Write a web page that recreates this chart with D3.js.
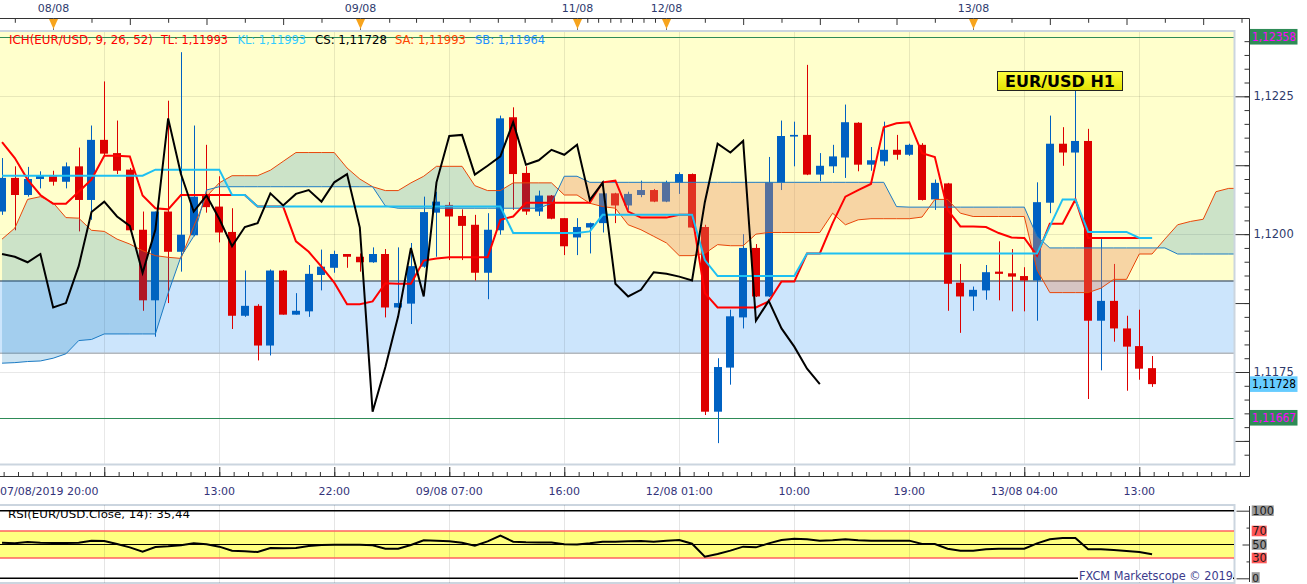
<!DOCTYPE html>
<html><head><meta charset="utf-8">
<script src="https://cdn.jsdelivr.net/npm/d3@7"></script>
<style>
html,body{margin:0;padding:0;background:#fff;overflow:hidden;}
svg{display:block;font-family:"DejaVu Sans",Verdana,sans-serif;}
</style></head><body>
<svg id="c" width="1307" height="584"></svg>
<script>
// ---------------- DATA ----------------
const openP = [
1.12041,1.12102,1.12071,1.12100,1.12105,1.12095,1.12123,1.12062,1.12171,1.12147,
1.12117,1.12008,1.11880,1.12041,1.11968,1.11998,1.12071,1.12050,1.12004,1.11852,
1.11870,1.11798,1.11934,1.11854,1.11860,1.11926,1.11939,1.11964,1.11959,1.11949,
1.11964,1.11867,1.11874,1.11941,1.12039,1.12053,1.12033,1.12017,1.11930,1.12007,
1.12212,1.12111,1.12041,1.12070,1.12029,1.11994,1.12012,1.12020,1.12074,1.12052,
1.12071,1.12080,1.12059,1.12093,1.12109,1.12013,1.11678,1.11758,1.11849,1.11975,
1.11887,1.12093,1.12177,1.12180,1.12108,1.12123,1.12139,1.12202,1.12126,1.12132,
1.12153,1.12144,1.12162,1.12063,1.12092,1.11912,1.11887,1.11898,1.11932,1.11929,
1.11924,1.11916,1.12057,1.12164,1.12148,1.12169,1.11843,1.11879,1.11829,1.11797,
1.11757];
const highP = [
1.12138,1.12123,1.12122,1.12114,1.12115,1.12130,1.12157,1.12197,1.12277,1.12206,
1.12120,1.12041,1.12041,1.12242,1.12330,1.12197,1.12162,1.12105,1.12047,1.11934,
1.11873,1.11936,1.11935,1.11893,1.11944,1.11972,1.11970,1.11964,1.11965,1.11976,
1.11973,1.11976,1.11984,1.12068,1.12077,1.12058,1.12045,1.12035,1.12038,1.12215,
1.12230,1.12123,1.12079,1.12071,1.12029,1.12029,1.12021,1.12097,1.12075,1.12077,
1.12097,1.12082,1.12097,1.12112,1.12110,1.12017,1.11775,1.11863,1.12000,1.11982,
1.12140,1.12206,1.12204,1.12307,1.12147,1.12162,1.12235,1.12203,1.12158,1.12204,
1.12180,1.12164,1.12165,1.12099,1.12093,1.11946,1.11905,1.11944,1.11987,1.11973,
1.11940,1.12094,1.12215,1.12194,1.12261,1.12191,1.11991,1.11946,1.11852,1.11863,
1.11779];
const lowP = [
1.12035,1.12007,1.12068,1.12083,1.12088,1.12083,1.12005,1.12026,1.12141,1.12109,
1.12005,1.11861,1.11814,1.11875,1.11932,1.11996,1.12039,1.11985,1.11828,1.11850,
1.11771,1.11780,1.11854,1.11854,1.11850,1.11898,1.11930,1.11939,1.11932,1.11948,
1.11849,1.11866,1.11837,1.11939,1.11959,1.11953,1.11953,1.11916,1.11882,1.11999,
1.12044,1.12035,1.12033,1.12027,1.11962,1.11962,1.11965,1.12003,1.12020,1.12044,
1.12067,1.12058,1.12058,1.12073,1.12011,1.11672,1.11621,1.11727,1.11829,1.11886,
1.11886,1.12080,1.12123,1.12107,1.12096,1.12111,1.12102,1.12114,1.12115,1.12124,
1.12135,1.12142,1.12061,1.12044,1.11861,1.11821,1.11861,1.11881,1.11880,1.11860,
1.11860,1.11843,1.12038,1.12124,1.12062,1.11701,1.11753,1.11805,1.11716,1.11736,
1.11723];
const closeP = [
1.12102,1.12071,1.12100,1.12106,1.12095,1.12123,1.12062,1.12171,1.12146,1.12115,
1.12007,1.11880,1.12041,1.11968,1.11999,1.12068,1.12049,1.12003,1.11852,1.11870,
1.11798,1.11934,1.11854,1.11861,1.11928,1.11941,1.11964,1.11959,1.11949,1.11964,
1.11867,1.11875,1.11942,1.12040,1.12059,1.12032,1.12015,1.11930,1.12008,1.12210,
1.12109,1.12041,1.12070,1.12028,1.11978,1.12013,1.12020,1.12074,1.12052,1.12073,
1.12080,1.12059,1.12094,1.12109,1.12012,1.11678,1.11759,1.11851,1.11975,1.11887,
1.12094,1.12178,1.12180,1.12108,1.12124,1.12141,1.12203,1.12126,1.12134,1.12153,
1.12144,1.12162,1.12062,1.12093,1.11910,1.11887,1.11899,1.11931,1.11928,1.11923,
1.11916,1.12058,1.12164,1.12148,1.12169,1.11843,1.11879,1.11829,1.11796,1.11756,
1.11728];
const tenkan = [
1.12167,1.12138,1.12099,1.12071,1.12055,1.12055,1.12077,1.12099,1.12142,1.12142,
1.12141,1.12070,1.12047,1.12045,1.12071,1.12071,1.12071,1.12071,1.12071,1.12071,
1.12050,1.12050,1.12050,1.11987,1.11968,1.11941,1.11912,1.11873,1.11873,1.11878,
1.11911,1.11910,1.11910,1.11952,1.11956,1.11958,1.11958,1.11958,1.11958,1.12026,
1.12032,1.12057,1.12057,1.12057,1.12057,1.12057,1.12057,1.12094,1.12097,1.12041,
1.12030,1.12030,1.12030,1.12035,1.12035,1.11893,1.11867,1.11867,1.11867,1.11867,
1.11878,1.11914,1.11914,1.11965,1.11965,1.12020,1.12068,1.12080,1.12091,1.12194,
1.12201,1.12203,1.12147,1.12140,1.12044,1.12014,1.12014,1.12013,1.12002,1.11994,
1.11993,1.11961,1.12019,1.12019,1.12063,1.11993,1.11993,1.11993,1.11993,1.11993,
1.11993];
const kijun = [
1.12106,1.12106,1.12106,1.12106,1.12106,1.12106,1.12106,1.12106,1.12106,1.12106,
1.12106,1.12106,1.12117,1.12117,1.12117,1.12117,1.12117,1.12117,1.12071,1.12071,
1.12050,1.12050,1.12050,1.12050,1.12050,1.12050,1.12050,1.12050,1.12050,1.12050,
1.12050,1.12050,1.12050,1.12050,1.12050,1.12050,1.12050,1.12050,1.12050,1.12050,
1.12002,1.12002,1.12002,1.12002,1.12002,1.12002,1.12005,1.12035,1.12035,1.12035,
1.12035,1.12035,1.12035,1.12035,1.12035,1.11953,1.11924,1.11924,1.11924,1.11924,
1.11924,1.11924,1.11924,1.11965,1.11965,1.11965,1.11965,1.11965,1.11965,1.11965,
1.11965,1.11965,1.11965,1.11965,1.11965,1.11965,1.11965,1.11965,1.11965,1.11965,
1.11965,1.11965,1.12014,1.12063,1.12063,1.12004,1.12004,1.12004,1.12004,1.11993,
1.11993];
const chikou = [
1.11964,1.11959,1.11949,1.11964,1.11867,1.11875,1.11942,1.12040,1.12059,1.12032,
1.12015,1.11930,1.12008,1.12210,1.12109,1.12041,1.12070,1.12028,1.11978,1.12013,
1.12020,1.12074,1.12052,1.12073,1.12080,1.12059,1.12094,1.12109,1.12012,1.11678,
1.11759,1.11851,1.11975,1.11887,1.12094,1.12178,1.12180,1.12108,1.12124,1.12141,
1.12203,1.12126,1.12134,1.12153,1.12144,1.12162,1.12062,1.12093,1.11910,1.11887,
1.11899,1.11931,1.11928,1.11923,1.11916,1.12058,1.12164,1.12148,1.12169,1.11843,
1.11879,1.11829,1.11796,1.11756,1.11728];
const senkouA = [
1.11991,1.12011,1.12063,1.12068,1.12057,1.12030,1.12029,1.12007,1.12005,1.11991,
1.11982,1.11970,1.11961,1.11958,1.11956,1.12014,1.12068,1.12093,1.12106,1.12106,
1.12106,1.12116,1.12132,1.12148,1.12148,1.12148,1.12148,1.12120,1.12100,1.12086,
1.12079,1.12079,1.12093,1.12105,1.12123,1.12123,1.12123,1.12088,1.12079,1.12079,
1.12093,1.12093,1.12093,1.12093,1.12071,1.12071,1.12056,1.12050,1.12047,1.12017,
1.12008,1.11996,1.11984,1.11961,1.11961,1.11965,1.11981,1.11979,1.11979,1.12000,
1.12003,1.12003,1.12003,1.12003,1.12003,1.12038,1.12017,1.12026,1.12028,1.12028,
1.12028,1.12028,1.12031,1.12063,1.12063,1.12038,1.12032,1.12032,1.12032,1.12032,
1.12032,1.11935,1.11894,1.11894,1.11894,1.11894,1.11902,1.11918,1.11918,1.11964,
1.11964,1.11991,1.12017,1.12023,1.12027,1.12077,1.12083,1.12083];
const senkouB = [
1.11766,1.11767,1.11769,1.11770,1.11775,1.11783,1.11807,1.11809,1.11819,1.11819,
1.11819,1.11819,1.11819,1.11893,1.11959,1.11996,1.12080,1.12086,1.12086,1.12086,
1.12086,1.12086,1.12086,1.12086,1.12086,1.12086,1.12086,1.12086,1.12086,1.12086,
1.12051,1.12047,1.12047,1.12047,1.12047,1.12047,1.12047,1.12047,1.12047,1.12047,
1.12047,1.12047,1.12047,1.12056,1.12105,1.12105,1.12094,1.12094,1.12094,1.12094,
1.12094,1.12094,1.12094,1.12094,1.12094,1.12094,1.12094,1.12094,1.12094,1.12094,
1.12094,1.12094,1.12094,1.12094,1.12094,1.12094,1.12094,1.12094,1.12094,1.12094,
1.12050,1.12049,1.12049,1.12049,1.12049,1.12049,1.12049,1.12049,1.12049,1.12049,
1.12049,1.11996,1.11975,1.11975,1.11975,1.11975,1.11975,1.11975,1.11975,1.11975,
1.11975,1.11975,1.11964,1.11964,1.11964,1.11964,1.11964,1.11964];
const rsi = [
52.7,51.7,53.7,52.7,52.2,52.2,52.7,55.7,55.2,50.7,
45.8,39.4,46.3,47.3,49.0,51.7,50.4,46.8,40.9,39.9,
38.9,44.8,44.3,44.8,47.8,49.3,49.8,49.8,49.8,48.8,
43.8,43.8,49.3,56.2,55.7,54.7,52.7,48.3,54.7,63.1,
54.2,53.2,52.8,52.8,50.2,50.0,51.7,54.2,54.2,54.7,
55.2,54.2,55.7,56.7,51.2,32.0,35.9,40.9,46.8,45.8,
51.7,56.7,58.6,57.7,55.7,56.2,57.7,56.2,55.7,55.7,
55.7,55.7,50.7,50.7,43.8,40.9,40.9,42.9,43.8,43.8,
43.8,51.7,57.7,59.6,59.6,42.9,42.9,41.9,40.4,38.9,
35.44];
// time axis labels (candle index -> label)
const timeLabelIdx = [0,17,26,35,44,53,62,71,80,89];
const timeLabels = ["07/08/2019 20:00","13:00","22:00","09/08 07:00","16:00","12/08 01:00","10:00","19:00","13/08 04:00","13:00"];
const gridIdx = [8,17,26,35,44,53,62,71,80,89];
// top ruler dates
const dateIdx = [4,28,45,52,76];
const dateLabels = ["08/08","09/08","11/08","12/08","13/08"];
const rulerMajor = [4,10,16,22,28,52,58,64,70,76,82,88,94];
const rulerMinor = [1,7,13,19,25,30.3,32.4,34.5,36.6,38.8,40.9,43,45.15,45.8,46.65,47.6,48.4,49.3,50.2,51.1,55,61,67,73,79,85,91,97];
const priceTicks = [1.1175,1.1200,1.1225];
const zoneUpper = 1.11915, zoneLower = 1.11784;
const levelLines = [1.12358, 1.11667];
const rsiLevels = [100,70,50,30,0];
const header = [
  {t:"ICH(EUR/USD, 9, 26, 52)", c:"#ff0000"},
  {t:"TL: 1,11993", c:"#ff0000"},
  {t:"KL: 1,11993", c:"#33ccff"},
  {t:"CS: 1,11728", c:"#000000"},
  {t:"SA: 1,11993", c:"#ff4500"},
  {t:"SB: 1,11964", c:"#1e90ff"}
];
// ---------------- LAYOUT ----------------
const PR = 1234, PT = 31.5, PB = 464, AX = 1249.5;
const svg = d3.select("#c");
const x = d3.scaleLinear().domain([0,96]).range([2.04, 2.04+96*12.778]);
const y = d3.scaleLinear().domain([1.1175,1.1225]).range([372.0,96.3]);
const yR = d3.scaleLinear().domain([0,100]).range([578.3,510.7]);
const fmt = (v,d)=>v.toFixed(d).replace(".",",");

const defs = svg.append("defs");
defs.append("clipPath").attr("id","pc").append("rect").attr("x",0).attr("y",PT).attr("width",PR).attr("height",PB-PT);
defs.append("clipPath").attr("id","rc").append("rect").attr("x",0).attr("y",505).attr("width",PR).attr("height",78);
const grad = defs.append("linearGradient").attr("id","lbl").attr("x1",0).attr("y1",0).attr("x2",0).attr("y2",1);
grad.append("stop").attr("offset","0").attr("stop-color","#ffff40");
grad.append("stop").attr("offset","1").attr("stop-color","#e2e200");

svg.append("rect").attr("width",1307).attr("height",584).attr("fill","#fff");

// ---- top ruler ----
const rul = svg.append("g");
rul.append("line").attr("x1",0).attr("x2",AX).attr("y1",18.5).attr("y2",18.5).attr("stroke","#333");
rul.append("g").attr("transform","translate(0,18.5)").attr("color","#333")
  .call(d3.axisBottom(x).tickValues(rulerMajor).tickSize(6.5).tickFormat(""))
  .call(g=>g.select(".domain").remove());
rul.append("g").attr("transform","translate(0,18.5)").attr("color","#333")
  .call(d3.axisBottom(x).tickValues(rulerMinor).tickSize(4.3).tickFormat(""))
  .call(g=>g.select(".domain").remove());
dateIdx.forEach((d,k)=>{
  const xx = Math.round(x(d))+0.5;
  rul.append("line").attr("x1",xx).attr("x2",xx).attr("y1",18.5).attr("y2",31).attr("stroke","#777");
  rul.append("path").attr("d",`M${xx-4.5},19 L${xx+4.5},19 L${xx},29 Z`).attr("fill","#f7a41d");
  rul.append("text").attr("x",xx).attr("y",8).attr("text-anchor","middle").attr("dominant-baseline","central")
    .attr("font-size",11).attr("fill","#2e3a6e").text(dateLabels[k]);
});

// ---- main plot background ----
const plot = svg.append("g").attr("clip-path","url(#pc)");
plot.append("rect").attr("x",0).attr("y",PT).attr("width",PR).attr("height",PB-PT).attr("fill","#fff");
plot.append("rect").attr("x",0).attr("y",PT).attr("width",PR).attr("height",y(zoneUpper)-PT).attr("fill","#ffffcc");
plot.append("rect").attr("x",0).attr("y",y(zoneUpper)).attr("width",PR).attr("height",y(zoneLower)-y(zoneUpper)).attr("fill","#cce5fc");
gridIdx.forEach(d=>{
  const xx = Math.round(x(d))+0.5;
  plot.append("line").attr("x1",xx).attr("x2",xx).attr("y1",PT).attr("y2",PB).attr("stroke","#000").attr("stroke-opacity",0.09);
});
priceTicks.forEach(p=>{
  plot.append("line").attr("x1",0).attr("x2",PR).attr("y1",Math.round(y(p))+0.5).attr("y2",Math.round(y(p))+0.5).attr("stroke","#000").attr("stroke-opacity",0.09);
});
plot.append("line").attr("x1",0).attr("x2",PR).attr("y1",y(zoneUpper)).attr("y2",y(zoneUpper)).attr("stroke","#5f6f80").attr("stroke-width",1.5);
plot.append("line").attr("x1",0).attr("x2",PR).attr("y1",y(zoneLower)).attr("y2",y(zoneLower)).attr("stroke","#b3b8bd").attr("stroke-width",1.5);
levelLines.forEach(p=>{
  plot.append("line").attr("x1",0).attr("x2",PR).attr("y1",Math.round(y(p))+0.5).attr("y2",Math.round(y(p))+0.5).attr("stroke","#2e8b57");
});

// ---- candles ----
const candles = openP.map((o,i)=>({i,o,h:highP[i],l:lowP[i],c:closeP[i]}));
const cg = plot.append("g");
candles.forEach(d=>{
  const col = d.c >= d.o ? "#0061c2" : "#dd0000";
  const xx = Math.round(x(d.i))+0.5;
  cg.append("line").attr("x1",xx).attr("x2",xx).attr("y1",y(d.h)).attr("y2",y(d.l)).attr("stroke",col);
  const top = y(Math.max(d.o,d.c)), bot = y(Math.min(d.o,d.c));
  cg.append("rect").attr("x",xx-4.5).attr("width",8).attr("y",top).attr("height",Math.max(1.5,bot-top)).attr("fill",col);
});

// ---- cloud ----
const cpts = [];
for (let i=0;i<senkouA.length;i++){
  cpts.push({i, a:senkouA[i], b:senkouB[i]});
  if (i<senkouA.length-1){
    const d0 = senkouA[i]-senkouB[i], d1 = senkouA[i+1]-senkouB[i+1];
    if (d0*d1<0){
      const t = d0/(d0-d1);
      const v = senkouA[i]+t*(senkouA[i+1]-senkouA[i]);
      cpts.push({i:i+t, a:v, b:v});
    }
  }
}
plot.append("path").datum(cpts)
  .attr("d", d3.area().x(d=>x(d.i)).y0(d=>y(d.b)).y1(d=>y(Math.max(d.a,d.b))))
  .attr("fill","rgb(0,115,184)").attr("fill-opacity",0.2);
plot.append("path").datum(cpts)
  .attr("d", d3.area().x(d=>x(d.i)).y0(d=>y(d.a)).y1(d=>y(Math.max(d.a,d.b))))
  .attr("fill","rgb(232,139,93)").attr("fill-opacity",0.36);

const line = d3.line().x((d,i)=>x(i)).y(d=>y(d));
plot.append("path").datum(senkouA).attr("d",line).attr("fill","none").attr("stroke","#e8470a").attr("stroke-width",1);
plot.append("path").datum(senkouB).attr("d",line).attr("fill","none").attr("stroke","#1b7bc4").attr("stroke-width",1);
plot.append("path").datum(tenkan).attr("d",line).attr("fill","none").attr("stroke","#ff0000").attr("stroke-width",2);
plot.append("path").datum(kijun).attr("d",line).attr("fill","none").attr("stroke","#1ec0f2").attr("stroke-width",2);
plot.append("path").datum(chikou).attr("d",line).attr("fill","none").attr("stroke","#000").attr("stroke-width",2);

// ---- header ----
const hx = [9,161,237.5,315,395,475], hw = [144,67,68.5,72,71,70];
header.forEach((h,k)=>{
  svg.append("text").attr("x",hx[k]).attr("y",39.5).attr("dominant-baseline","central")
    .attr("font-size",11.5).attr("fill",h.c).attr("textLength",hw[k]).attr("lengthAdjust","spacingAndGlyphs").text(h.t);
});

// ---- EUR/USD H1 label ----
svg.append("rect").attr("x",997.5).attr("y",71.5).attr("width",125).attr("height",19).attr("fill","url(#lbl)").attr("stroke","#222").attr("stroke-width",1);
svg.append("text").attr("x",1060).attr("y",81.5).attr("text-anchor","middle").attr("dominant-baseline","central")
  .attr("font-size",16).attr("font-weight","bold").attr("fill","#000").attr("textLength",110).attr("lengthAdjust","spacingAndGlyphs").text("EUR/USD H1");

// ---- plot border ----
svg.append("rect").attr("x",-1).attr("y",PT-0.5).attr("width",PR+1.5).attr("height",PB-PT+1).attr("fill","none").attr("stroke","#cbd5df").attr("stroke-width",2);

// ---- right price axis ----
svg.append("line").attr("x1",AX).attr("x2",AX).attr("y1",18.5).attr("y2",476.5).attr("stroke","#333");
const minorPrices = d3.range(0,31).map(k=>+(1.116+k*0.00025).toFixed(5));
const majorPrices = d3.range(0,6).map(k=>+(1.11625+k*0.00125).toFixed(5));
svg.append("g").attr("transform",`translate(${AX},0)`).attr("color","#333")
  .call(d3.axisLeft(y).tickValues(minorPrices).tickSize(5).tickFormat("")).call(g=>g.select(".domain").remove());
svg.append("g").attr("transform",`translate(${AX},0)`).attr("color","#333")
  .call(d3.axisLeft(y).tickValues(majorPrices).tickSize(14).tickFormat("")).call(g=>g.select(".domain").remove());
const pl = svg.append("g").attr("transform",`translate(${AX},0)`)
  .call(d3.axisRight(y).tickValues(priceTicks).tickSize(0).tickPadding(4).tickFormat(d=>fmt(d,4)));
pl.select(".domain").remove();
pl.selectAll("text").attr("font-size",11.5).attr("font-family","DejaVu Sans").attr("fill","#2f3b6b");

function valueBox(p, bg, fg, txt){
  const yy = y(p);
  svg.append("rect").attr("x",1250).attr("y",yy-7.8).attr("width",47.5).attr("height",15.6).attr("fill",bg);
  svg.append("text").attr("x",1252).attr("y",yy+0.3).attr("dominant-baseline","central").attr("font-size",11.5)
    .attr("fill",fg).attr("textLength",44).attr("lengthAdjust","spacingAndGlyphs").text(txt);
}
valueBox(levelLines[0], "#2e8b57", "#ff00ff", fmt(levelLines[0],5));
valueBox(levelLines[1], "#2e8b57", "#ff00ff", fmt(levelLines[1],5));
valueBox(closeP[closeP.length-1], "#66ccff", "#000", fmt(closeP[closeP.length-1],5));

// ---- time axis ----
svg.append("line").attr("x1",0).attr("x2",AX).attr("y1",476.5).attr("y2",476.5).attr("stroke","#333");
svg.append("g").attr("transform","translate(0,476.5)").attr("color","#333")
  .call(d3.axisTop(x).tickValues(gridIdx).tickSize(9.5).tickFormat("")).call(g=>g.select(".domain").remove());
const minorT = d3.range(0,88).map(k=>-1+k*1.125).filter(v=>x(v)>0 && x(v)<AX);
svg.append("g").attr("transform","translate(0,476.5)").attr("color","#333")
  .call(d3.axisTop(x).tickValues(minorT).tickSize(4.5).tickFormat("")).call(g=>g.select(".domain").remove());
timeLabelIdx.forEach((d,k)=>{
  const first = k===0;
  svg.append("text").attr("x", first?0:x(d)).attr("y",491).attr("text-anchor", first?"start":"middle")
    .attr("dominant-baseline","central").attr("font-size",11).attr("fill","#33337a").text(timeLabels[k]);
});

// ---- RSI panel ----
const rp = svg.append("g");
rp.append("rect").attr("x",-1).attr("y",505).attr("width",PR+1.5).attr("height",78).attr("fill","#fff").attr("stroke","#cbd5df").attr("stroke-width",2);
const rin = rp.append("g").attr("clip-path","url(#rc)");
rin.append("rect").attr("x",0).attr("y",yR(70)).attr("width",PR).attr("height",yR(30)-yR(70)).attr("fill","#ffff80");
gridIdx.forEach(d=>{
  const xx = Math.round(x(d))+0.5;
  rin.append("line").attr("x1",xx).attr("x2",xx).attr("y1",505).attr("y2",583).attr("stroke","#000").attr("stroke-opacity",0.1);
});
rsiLevels.forEach(v=>{
  const red = (v===70||v===30);
  rin.append("line").attr("x1",0).attr("x2",PR).attr("y1",yR(v)).attr("y2",yR(v))
    .attr("stroke", red?"#ff6060":"#000").attr("stroke-width", v===50?1:1.5);
});
rin.append("path").datum(rsi).attr("d", d3.line().x((d,i)=>x(i)).y(d=>yR(d))).attr("fill","none").attr("stroke","#000").attr("stroke-width",2);
rp.append("text").attr("x",8).attr("y",514.5).attr("dominant-baseline","central").attr("font-size",11).attr("fill","#000")
  .attr("textLength",182).attr("lengthAdjust","spacingAndGlyphs").text("RSI(EUR/USD.Close, 14): " + fmt(rsi[rsi.length-1],2));
rp.append("rect").attr("x",1078).attr("y",570).attr("width",155).attr("height",12).attr("fill","#fff");
rp.append("text").attr("x",1079).attr("y",576).attr("dominant-baseline","central").attr("font-size",12).attr("fill","#3c3c8c")
  .attr("textLength",154).attr("lengthAdjust","spacingAndGlyphs").text("FXCM Marketscope © 2019");

// RSI axis
rp.append("line").attr("x1",AX).attr("x2",AX).attr("y1",506).attr("y2",582).attr("stroke","#333");
rp.append("g").attr("transform",`translate(${AX},0)`).attr("color","#333")
  .call(d3.axisLeft(yR).tickValues([100,0]).tickSize(13).tickFormat("")).call(g=>g.select(".domain").remove());
rp.append("g").attr("transform",`translate(${AX},0)`).attr("color","#333")
  .call(d3.axisLeft(yR).tickValues([50]).tickSize(7).tickFormat("")).call(g=>g.select(".domain").remove());
rp.append("g").attr("transform",`translate(${AX},0)`).attr("color","#333")
  .call(d3.axisLeft(yR).tickValues([75,25]).tickSize(3).tickFormat("")).call(g=>g.select(".domain").remove());
rsiLevels.forEach(v=>{
  const red = (v===70||v===30);
  const s = String(v);
  const w = s.length*7+1;
  const cy = v===0 ? yR(v)-0.8 : yR(v);
  const fs = v===0 ? 10.5 : 11.5;
  rp.append("rect").attr("x",1251.7).attr("y",cy-5.3).attr("width",w).attr("height",10.6).attr("fill", red?"#ff5858":"#9a9a9a");
  rp.append("text").attr("x",1252.2).attr("y",cy+0.3).attr("dominant-baseline","central").attr("font-size",fs).attr("fill","#1a1a1a").text(s);
});
</script>
</body></html>
